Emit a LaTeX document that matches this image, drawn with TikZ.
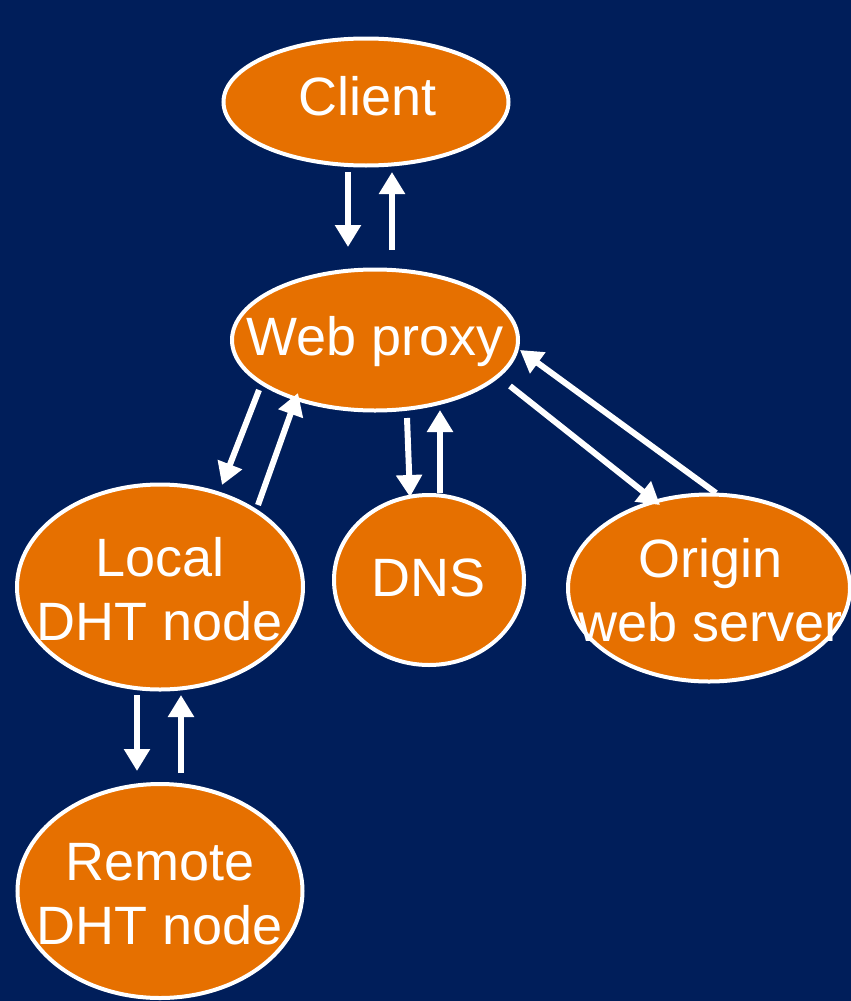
\documentclass[tikz,border=0pt]{standalone}
\usepackage{fontspec}
\setmainfont{Liberation Sans}
\usetikzlibrary{arrows.meta,calc,shapes.geometric}
\definecolor{navy}{RGB}{0,30,90}
\definecolor{pumpkin}{RGB}{230,112,0}
\tikzset{
  blob/.style={ellipse, fill=pumpkin, draw=white, line width=4pt, inner sep=0pt},
  txt/.style={text=white, align=center, font=\fontsize{54}{64}\selectfont, inner sep=0pt},
  arr/.style={draw=white, line width=6pt, -{Triangle[length=22pt,width=25pt]}}
}
\begin{document}
\begin{tikzpicture}[x=1pt,y=-1pt]
  \fill[navy] (0,0) rectangle (851,1001);
  \useasboundingbox (0,0) rectangle (851,1001);

  % nodes
  \node[blob, minimum width=285pt, minimum height=127pt] (client) at (366,102) {};
  \node[blob, minimum width=286pt, minimum height=141pt] (proxy)  at (375,340) {};
  \node[blob, minimum width=286pt, minimum height=205pt] (local)  at (160,587) {};
  \node[blob, minimum width=190pt, minimum height=170pt] (dns)    at (429,580) {};
  \node[blob, minimum width=282pt, minimum height=187pt] (origin) at (709,588) {};
  \node[blob, minimum width=285pt, minimum height=214pt] (remote) at (160,891) {};

  \node[txt] at ($(client)+(2,-6)$) {Client};
  \node[txt] at ($(proxy)+(0,2)$) {Web proxy};
  \node[txt] at ($(local)+(0,2)$) {Local\\DHT node};
  \node[txt] at ($(dns)+(0,-2)$) {DNS};
  \node[txt] at ($(origin)+(2,2)$) {Origin\\web server};
  \node[txt] at ($(remote)+(0,3)$) {Remote\\DHT node};

  % connectors
  \draw[arr] ($(client)+(-18,70)$) -- ($(proxy)+(-27,-93)$);
  \draw[arr] ($(proxy)+(17,-90)$) -- ($(client)+(26,70)$);

  \draw[arr] ($(proxy)+(-116,50)$) -- ($(local)+(62,-102)$);
  \draw[arr] ($(local)+(98,-82)$) -- ($(proxy)+(-77,53)$);

  \draw[arr] ($(proxy)+(32,78)$) -- ($(dns)+(-19,-83)$);
  \draw[arr] ($(dns)+(11,-87)$) -- ($(proxy)+(65,70)$);

  \draw[arr] ($(proxy)+(135,46)$) -- ($(origin)+(-49,-83)$);
  \draw[arr] ($(origin)+(7,-95)$) -- ($(proxy)+(145,10)$);

  \draw[arr] ($(local)+(-23,108)$) -- ($(remote)+(-23,-120)$);
  \draw[arr] ($(remote)+(21,-118)$) -- ($(local)+(21,108)$);
\end{tikzpicture}
\end{document}
